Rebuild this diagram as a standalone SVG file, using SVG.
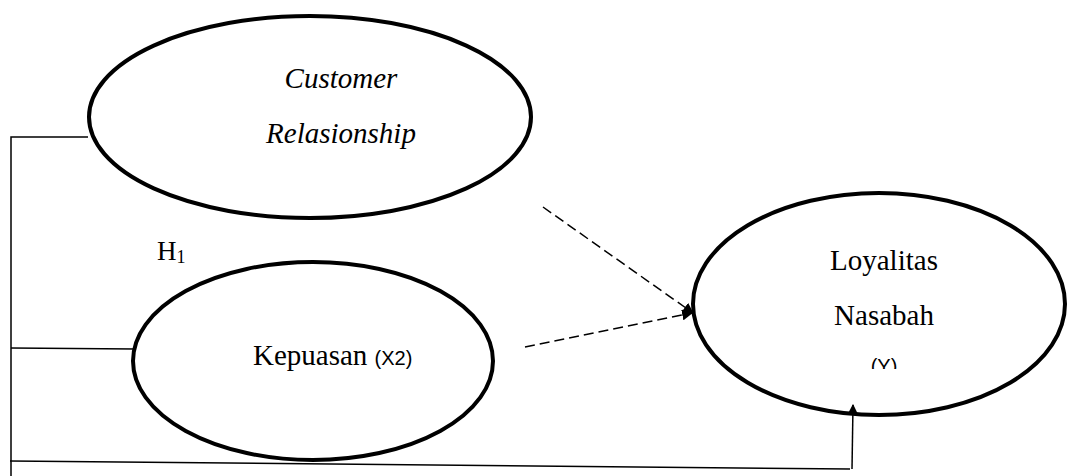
<svg xmlns="http://www.w3.org/2000/svg" width="1067" height="476" viewBox="0 0 1067 476">
<style>
.node{fill:#fff;stroke:#000;stroke-width:4}
.serif{font-family:"Liberation Serif","Times New Roman",serif;fill:#000}
.sans{font-family:"Liberation Sans",Arial,sans-serif;fill:#000}
.line{fill:none;stroke:#000;stroke-width:1.5}
.dash{fill:none;stroke:#000;stroke-width:1.5;stroke-dasharray:10,5}
</style>
<defs>
<marker id="arr" viewBox="0 0 10 10" refX="9" refY="5" markerWidth="11" markerHeight="11" markerUnits="userSpaceOnUse" orient="auto">
<path d="M0,0 L10,5 L0,10 Z" fill="#000"/>
</marker>
<clipPath id="clipY"><rect x="850" y="340" width="60" height="29"/></clipPath>
</defs>
<g id="customer-relationship">
<ellipse class="node" cx="310" cy="117" rx="221" ry="101"/>
<text class="serif" x="341" y="88" font-size="29" font-style="italic" text-anchor="middle">Customer</text>
<text class="serif" x="341" y="143" font-size="29" font-style="italic" text-anchor="middle">Relasionship</text>
</g>
<g id="h1-label">
<text class="serif" x="157" y="260" font-size="27">H<tspan font-size="18" dy="3">1</tspan></text>
</g>
<g id="kepuasan">
<ellipse class="node" cx="313" cy="361" rx="180" ry="99"/>
<text class="serif" x="253" y="365" font-size="29">Kepuasan <tspan class="sans" font-size="20">(X2)</tspan></text>
</g>
<g id="loyalitas">
<ellipse class="node" cx="879" cy="304" rx="186" ry="111"/>
<text class="serif" x="884" y="270" font-size="29" text-anchor="middle">Loyalitas</text>
<text class="serif" x="884" y="325" font-size="29" text-anchor="middle">Nasabah</text>
<text class="sans" x="884" y="373" font-size="20" text-anchor="middle" clip-path="url(#clipY)">(Y)</text>
</g>
<g id="connectors">
<polyline class="line" points="88,137 11,137 11,476"/>
<line class="line" x1="11" y1="348" x2="135" y2="349"/>
<line class="line" x1="10" y1="461" x2="850" y2="469"/>
<line class="line" x1="852" y1="469" x2="853" y2="405" marker-end="url(#arr)"/>
<line class="dash" x1="543" y1="207" x2="693" y2="313" marker-end="url(#arr)"/>
<line class="dash" x1="525" y1="347" x2="692" y2="313" marker-end="url(#arr)"/>
</g>
</svg>
